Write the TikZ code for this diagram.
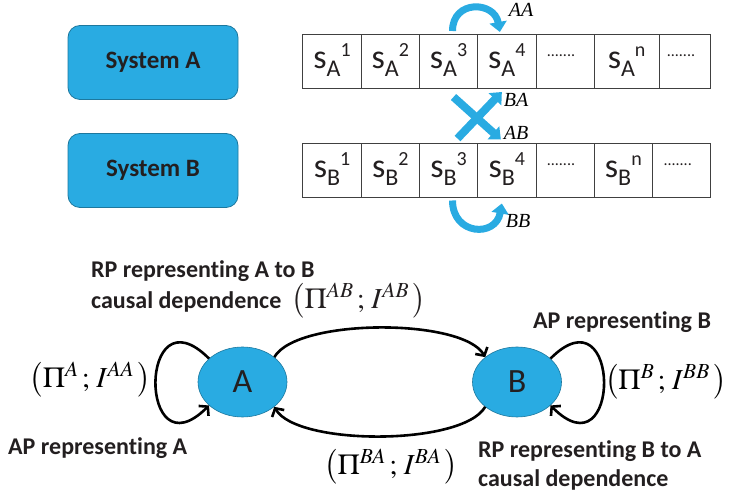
\documentclass[tikz,border=0pt]{standalone}
\usepackage{mathptmx}
\usepackage[no-math]{fontspec}
\setmainfont{Carlito}[Ligatures=CommonOff]
\newfontfamily\timesfont{Liberation Serif}
\usetikzlibrary{arrows.meta,shapes.geometric}
\definecolor{sysblue}{HTML}{29ABE2}
\definecolor{inkgray}{HTML}{231F20}
\tikzset{
  sysbox/.style={draw=sysblue!70!black, line width=0.8pt, fill=sysblue, rounded corners=12pt,
    minimum width=170pt, minimum height=74pt, font=\fontsize{25}{25}\selectfont\bfseries, text=inkgray},
  cell/.style={draw=black!75, line width=1pt, minimum height=54pt, inner sep=0pt, outer sep=0pt,
    text height=22pt, text depth=8pt, font=\fontsize{34}{34}\selectfont, text=inkgray},
  flow/.style={sysblue, line width=7pt, -{Triangle[length=10pt,width=17pt]}},
  agent/.style={ellipse, draw=sysblue!70!black, line width=0.6pt, fill=sysblue, minimum width=89pt,
    minimum height=70pt, inner sep=0pt, font=\fontsize{34}{34}\selectfont, text=inkgray},
  link/.style={line width=2.6pt, -{Straight Barb[length=6pt,width=14pt]}},
  caption/.style={font=\fontsize{24}{29}\selectfont\bfseries, text=inkgray, align=left, inner sep=0pt},
  pair/.style={font=\fontsize{29}{29}\selectfont, inner sep=0pt},
  tag/.style={font=\timesfont\itshape\fontsize{20}{20}\selectfont, inner sep=0pt}
}
\newcommand{\scell}[2]{s\raisebox{-8pt}{\fontsize{24}{24}\selectfont #1}\raisebox{12pt}{\fontsize{20}{20}\selectfont #2}}
\newcommand{\celldots}{\hspace*{-8pt}\raisebox{12pt}{\fontsize{16}{16}\selectfont .......}}
\newcommand{\ppair}[2]{$\bigl(\Pi^{#1}\,;\,I^{#2}\,\bigr)$}

\begin{document}
\begin{tikzpicture}[x=1pt,y=1pt]
  \useasboundingbox (0,0) rectangle (745,501);
  \node[sysbox] (sysA) at (153,438.5) {System A};
  \node[sysbox] (sysB) at (153,330.5) {System B};
  \foreach \n/\l/\w/\t in {a1/302.7/58.6/{\scell{A}{1}}, a2/361.3/58/{\scell{A}{2}},
      a3/419.3/58.4/{\scell{A}{3}}, a4/477.7/58.3/{\scell{A}{4}}, a5/536/58/{\celldots},
      a6/594/65.3/{\scell{A}{n}}, a7/659.3/51.4/{\celldots}}
    \node[cell, minimum width=\w, anchor=west] (\n) at (\l,439) {\t};
  \foreach \n/\l/\w/\t in {b1/302.7/58.6/{\scell{B}{1}}, b2/361.3/58/{\scell{B}{2}},
      b3/419.3/58.4/{\scell{B}{3}}, b4/477.7/58.3/{\scell{B}{4}}, b5/536/58/{\celldots},
      b6/594/58.7/{\scell{B}{n}}, b7/652.7/58/{\celldots}}
    \node[cell, minimum width=\w, anchor=west] (\n) at (\l,330.5) {\t};
  \draw[flow] ([xshift=4pt,yshift=4pt]a3.north) to[out=90,in=100,looseness=1.7] ([xshift=-7pt,yshift=3pt]a4.north);
  \draw[flow, line width=8pt] ([xshift=5pt,yshift=-8pt]a3.south) -- ([xshift=-6pt,yshift=4pt]b4.north);
  \draw[flow, line width=8pt] ([xshift=9pt,yshift=5pt]b3.north) -- ([xshift=-5pt,yshift=-3pt]a4.south);
  \draw[flow] ([xshift=4pt,yshift=-3pt]b3.south) to[out=-90,in=-100,looseness=1.8] ([xshift=-5pt,yshift=-6pt]b4.south);
  \node[tag] (tagaa) at (521,491) {AA};
  \node[tag] (tagba) at (516,401) {BA};
  \node[tag] (tagab) at (516,368) {AB};
  \node[tag] (tagbb) at (518,280) {BB};

  \node[agent] (A) at (242.5,119) {A};
  \node[agent] (B) at (517,119) {B};
  \draw[link] (A.38) to[out=60,in=120,looseness=0.55] (B.142);
  \draw[link] (B.218) to[out=-120,in=-60,looseness=0.55] (A.322);
  \draw[link] (A.145) to[out=135,in=225,looseness=5.5] (A.215);
  \draw[link] (B.35) to[out=45,in=-45,looseness=5.5] (B.325);
  \node[caption, anchor=north west] (rpab) at (91,241)
    {RP representing A to B\\[1pt]causal dependence\hspace{10pt}{\mdseries\fontsize{29}{29}\selectfont\ppair{AB}{AB}}};
  \node[pair, anchor=east] (pia) at (151,121) {\ppair{A}{AA}};
  \node[caption, anchor=west] (apa) at (8,53) {AP representing A};
  \node[pair] (piba) at (391,34) {\ppair{BA}{BA}};
  \node[caption] (apb) at (622,179) {AP representing B};
  \node[pair, anchor=west] (pib) at (605,119) {\ppair{B}{BB}};
  \node[caption, anchor=west] (rpba) at (478,36) {RP representing B to A\\causal dependence};
\end{tikzpicture}
\end{document}
